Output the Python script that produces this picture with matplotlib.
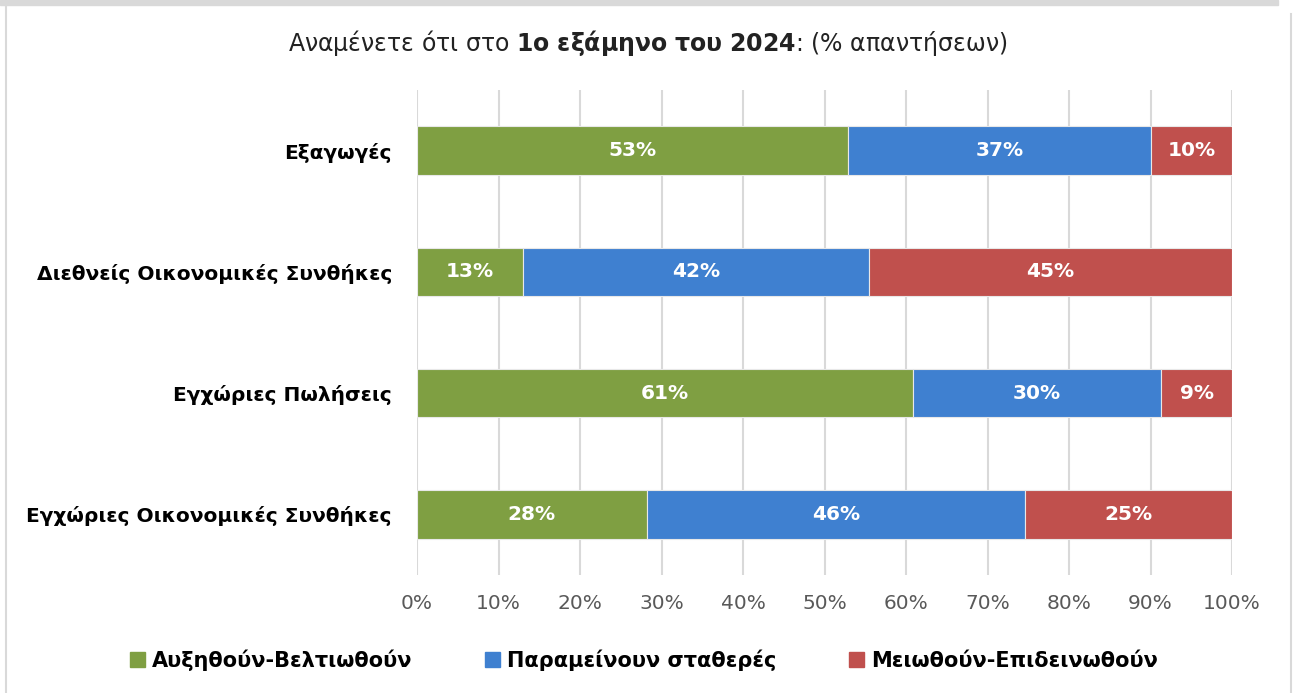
import matplotlib
matplotlib.use("Agg")
import matplotlib.pyplot as plt
from matplotlib.patches import Rectangle
from matplotlib.lines import Line2D

plt.rcParams['font.family'] = ['DejaVu Sans']

categories = ["Εξαγωγές", "Διεθνείς Οικονομικές Συνθήκες",
              "Εγχώριες Πωλήσεις", "Εγχώριες Οικονομικές Συνθήκες"]
series_names = ["Αυξηθούν-Βελτιωθούν", "Παραμείνουν σταθερές", "Μειωθούν-Επιδεινωθούν"]
increase = [52.9, 13.0, 60.9, 28.2]
stable = [37.2, 42.4, 30.4, 46.4]
decrease = [9.9, 44.6, 8.7, 25.4]
colors = ["#7F9F42", "#3F80D0", "#C0504D"]
xticks = [0, 10, 20, 30, 40, 50, 60, 70, 80, 90, 100]

fig = plt.figure(figsize=(12.96, 6.93), dpi=100)
ax = fig.add_axes([417/1296, 1-575/693, (1232-417)/1296, (575-90)/693])

ypos = list(range(len(categories)))
left = [0.0] * len(categories)
for vals, col, name in zip([increase, stable, decrease], colors, series_names):
    bars = ax.barh(ypos, vals, left=left, height=0.4, color=col,
                   edgecolor="#E8E8E8", linewidth=0.8, label=name, zorder=3)
    for b, v in zip(bars, vals):
        ax.text(b.get_x() + b.get_width()/2, b.get_y() + b.get_height()/2,
                f"{v:.0f}%", ha="center", va="center", color="white",
                fontsize=14.5, fontweight="bold", zorder=4)
    left = [l + v for l, v in zip(left, vals)]

ax.set_xlim(0, 100)
ax.set_ylim(len(categories) - 0.5, -0.5)
ax.set_yticks(ypos)
ax.set_yticklabels(categories, fontsize=14.5, fontweight="bold")
ax.set_xticks(xticks)
ax.set_xticklabels([f"{t}%" for t in xticks], fontsize=14.5, color="#595959")
ax.tick_params(axis="both", length=0)
ax.tick_params(axis="y", pad=18)
ax.tick_params(axis="x", pad=14)
ax.xaxis.grid(True, color="#D9D9D9", linewidth=1.5, zorder=0)
for s in ax.spines.values():
    s.set_visible(False)

fig.text(0.5, 1-43/693, "Αναμένετε ότι στο $\\mathbf{1ο\\ εξάμηνο\\ του\\ 2024}$: (% απαντήσεων)",
         ha="center", va="center", fontsize=17, color="#222222")

handles = [Rectangle((0, 0), 1, 1, color=c) for c in colors]
fig.legend(handles, series_names, loc="center", bbox_to_anchor=(0.497, 1-660/693),
           ncol=3, frameon=False, handlelength=0.7, handleheight=0.7,
           handletextpad=0.35, columnspacing=3.5,
           prop={"size": 15, "weight": "bold"})

# frame
fig.patches.append(Rectangle((0, 1-5/693), 1278/1296, 5/693, transform=fig.transFigure,
                             color="#D9D9D9", zorder=0))
fig.lines.append(Line2D([6/1296, 6/1296], [0, 1-5/693], transform=fig.transFigure,
                        color="#D9D9D9", linewidth=1.5))
fig.lines.append(Line2D([1291/1296, 1291/1296], [0, 1-14/693], transform=fig.transFigure,
                        color="#D9D9D9", linewidth=1.5))

fig.savefig("out.png", dpi=100)
